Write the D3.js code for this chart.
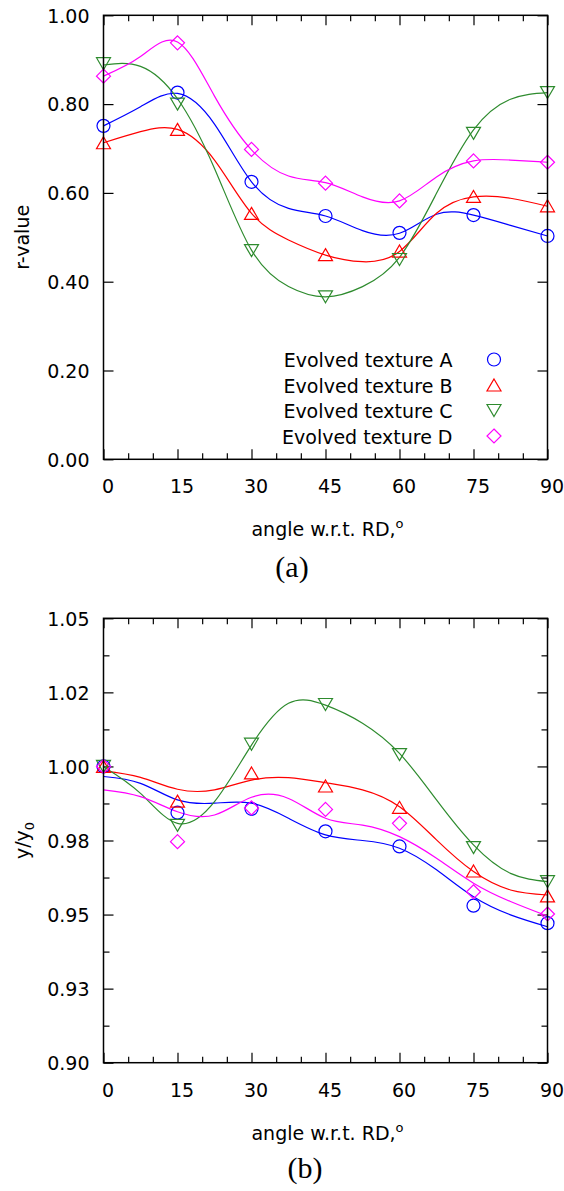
<!DOCTYPE html>
<html>
<head>
<meta charset="utf-8">
<script src="https://cdn.jsdelivr.net/npm/d3@7"></script>
<style>
  body { margin: 0; background: #fff; }
  svg { display: block; }
</style>
</head>
<body>
<script>
// angles of the measured points
var angles = [0, 15, 30, 45, 60, 75, 90]
// angles at which the smoothed curves were read
var fitAngles = [0, 7.5, 15, 22.5, 30, 37.5, 45, 52.5, 60, 67.5, 75, 82.5, 90]

var seriesNames = ["Evolved texture A", "Evolved texture B", "Evolved texture C", "Evolved texture D"]

// panel (a): r-value points
var rA = [0.751, 0.826, 0.625, 0.548, 0.510, 0.550, 0.503]
var rB = [0.713, 0.743, 0.554, 0.461, 0.469, 0.592, 0.571]
var rC = [0.891, 0.800, 0.470, 0.366, 0.450, 0.734, 0.826]
var rD = [0.863, 0.938, 0.698, 0.622, 0.582, 0.672, 0.669]

// panel (a): smoothed curves
var fitRA = [0.751, 0.794, 0.824, 0.755, 0.625, 0.565, 0.548, 0.515, 0.509, 0.552, 0.550, 0.527, 0.503]
var fitRB = [0.713, 0.738, 0.743, 0.674, 0.554, 0.494, 0.460, 0.445, 0.468, 0.554, 0.591, 0.588, 0.570]
var fitRC = [0.888, 0.885, 0.812, 0.655, 0.471, 0.389, 0.366, 0.389, 0.455, 0.599, 0.742, 0.811, 0.826]
var fitRD = [0.863, 0.907, 0.940, 0.818, 0.697, 0.638, 0.623, 0.591, 0.582, 0.636, 0.672, 0.674, 0.669]

// panel (b): y/y0 points
var yA = [1.000, 0.9844, 0.9857, 0.9781, 0.9730, 0.9530, 0.9471]
var yB = [1.000, 0.9883, 0.9978, 0.9934, 0.9862, 0.9647, 0.9563]
var yC = [1.000, 0.9801, 1.0075, 1.0209, 1.0040, 0.9726, 0.9611]
var yD = [1.000, 0.9746, 0.9860, 0.9855, 0.9808, 0.9577, 0.9502]

// panel (b): smoothed curves
var fitA = [0.9966, 0.9943, 0.9887, 0.9876, 0.9876, 0.9825, 0.9769, 0.9750, 0.9724, 0.9651, 0.9560, 0.9499, 0.9459]
var fitB = [0.9985, 0.9963, 0.9923, 0.9921, 0.9954, 0.9962, 0.9945, 0.9921, 0.9864, 0.9752, 0.9645, 0.9583, 0.9566]
var fitC = [0.9999, 0.9909, 0.9808, 0.9881, 1.0072, 1.0213, 1.0207, 1.0146, 1.0044, 0.9887, 0.9735, 0.9639, 0.9611]
var fitD = [0.9921, 0.9898, 0.9847, 0.9836, 0.9896, 0.9892, 0.9825, 0.9802, 0.9763, 0.9690, 0.9606, 0.9544, 0.9495]

// ticks
var xTicks = [0, 15, 30, 45, 60, 75, 90]
var xMinor = [5, 10, 20, 25, 35, 40, 50, 55, 65, 70, 80, 85]
var rTicks = [0, 0.2, 0.4, 0.6, 0.8, 1.0]
var rTickLabels = ["0.00", "0.20", "0.40", "0.60", "0.80", "1.00"]
var yTicks = [0.9, 0.925, 0.95, 0.975, 1.0, 1.025, 1.05]
var yTickLabels = ["0.90", "0.93", "0.95", "0.98", "1.00", "1.02", "1.05"]
var yMinor = [0.9125, 0.9375, 0.9625, 0.9875, 1.0125, 1.0375]

var colors = ["#0000ff", "#ff0000", "#2e8b2e", "#ff00ff"]
var symbols = ["circle", "up", "down", "diamond"]

var FONT = "DejaVu Sans"

var svg = d3.select("body").append("svg")
  .attr("width", 564)
  .attr("height", 1191)

function markerPath(kind) {
  if (kind == "circle") return "M6.5,0A6.5,6.5 0 1,1 -6.5,0A6.5,6.5 0 1,1 6.5,0Z"
  if (kind == "up") return "M0,-6L7,6L-7,6Z"
  if (kind == "down") return "M0,6L7,-6L-7,-6Z"
  return "M0,-7L7,0L0,7L-7,0Z"
}

function styleAxis(g) {
  g.select(".domain").remove()
  g.selectAll(".tick line").attr("stroke", "#000").attr("stroke-width", 1.2)
  g.selectAll("text").attr("font-family", FONT).attr("font-size", 19).attr("fill", "#000")
}

function drawPanel(p) {
  var w = 444, h = p.h
  var g = svg.append("g").attr("transform", "translate(" + p.left + "," + p.top + ")")
  var x = d3.scaleLinear().domain([0, 90]).range([0, w])
  var y = d3.scaleLinear().domain(p.yDomain).range([h, 0])

  // bottom axis with labels
  g.append("g").attr("transform", "translate(0," + h + ")")
    .call(d3.axisBottom(x).tickValues(xTicks).tickSizeInner(-10).tickSizeOuter(0).tickPadding(20.5))
    .call(styleAxis)
    .selectAll("text").attr("dx", 4)
  g.append("g").attr("transform", "translate(0," + h + ")")
    .call(d3.axisBottom(x).tickValues(xMinor).tickSizeInner(-6).tickSizeOuter(0).tickFormat(""))
    .call(styleAxis)
  // top mirror
  g.append("g")
    .call(d3.axisTop(x).tickValues(xTicks).tickSizeInner(-10).tickSizeOuter(0).tickFormat(""))
    .call(styleAxis)
  g.append("g")
    .call(d3.axisTop(x).tickValues(xMinor).tickSizeInner(-6).tickSizeOuter(0).tickFormat(""))
    .call(styleAxis)

  // left axis with labels
  g.append("g")
    .call(d3.axisLeft(y).tickValues(p.yTicks).tickFormat(function(d, i) { return p.yLabels[i] })
      .tickSizeInner(-10).tickSizeOuter(0).tickPadding(14))
    .call(styleAxis)
    .selectAll("text").attr("dy", "0.36em")
  g.append("g").attr("transform", "translate(" + w + ",0)")
    .call(d3.axisRight(y).tickValues(p.yTicks).tickSizeInner(-10).tickSizeOuter(0).tickFormat(""))
    .call(styleAxis)
  if (p.yMinor) {
    g.append("g")
      .call(d3.axisLeft(y).tickValues(p.yMinor).tickSizeInner(-6).tickSizeOuter(0).tickFormat(""))
      .call(styleAxis)
    g.append("g").attr("transform", "translate(" + w + ",0)")
      .call(d3.axisRight(y).tickValues(p.yMinor).tickSizeInner(-6).tickSizeOuter(0).tickFormat(""))
      .call(styleAxis)
  }

  var line = d3.line()
    .x(function(d) { return x(d[0]) })
    .y(function(d) { return y(d[1]) })
    .curve(d3.curveNatural)

  p.curves.forEach(function(c, i) {
    g.append("path")
      .datum(d3.zip(fitAngles, c))
      .attr("d", line)
      .attr("fill", "none")
      .attr("stroke", colors[i])
      .attr("stroke-width", 1.2)
  })

  p.points.forEach(function(s, i) {
    g.append("g").selectAll("path")
      .data(d3.zip(angles, s))
      .enter().append("path")
      .attr("transform", function(d) { return "translate(" + x(d[0]) + "," + y(d[1]) + ")" })
      .attr("d", markerPath(symbols[i]))
      .attr("fill", "none")
      .attr("stroke", colors[i])
      .attr("stroke-width", 1.2)
  })

  // frame
  g.append("rect")
    .attr("width", w).attr("height", h)
    .attr("fill", "none").attr("stroke", "#000").attr("stroke-width", 1.5)

  // x label
  var xl = g.append("text")
    .attr("x", w / 2 + 2).attr("y", h + 77)
    .attr("text-anchor", "middle")
    .attr("font-family", FONT).attr("font-size", 19)
    .text("angle w.r.t. RD,")
  xl.append("tspan").attr("dy", -8).attr("font-size", 13).text("o")

  // y label
  var yl = g.append("text")
    .attr("transform", "translate(" + (-75) + "," + (h / 2) + ") rotate(-90)")
    .attr("text-anchor", "middle")
    .attr("font-family", FONT).attr("font-size", 19)
    .text(p.yTitle)
  if (p.ySub) yl.append("tspan").attr("dy", 5).attr("font-size", 13).text(p.ySub)

  // panel tag
  svg.append("text")
    .attr("x", p.tagX).attr("y", p.tagY)
    .attr("text-anchor", "middle")
    .attr("font-family", "Liberation Serif").attr("font-size", 30)
    .text(p.tag)

  if (p.legend) {
    seriesNames.forEach(function(name, i) {
      var by = 352.2 + i * 25.5
      g.append("text")
        .attr("x", 349).attr("y", by)
        .attr("text-anchor", "end")
        .attr("font-family", FONT).attr("font-size", 19)
        .text(name)
      g.append("path")
        .attr("transform", "translate(" + 390.5 + "," + (by - 8) + ")")
        .attr("d", markerPath(symbols[i]))
        .attr("fill", "none")
        .attr("stroke", colors[i])
        .attr("stroke-width", 1.2)
    })
  }
}

drawPanel({
  left: 103.5, top: 15.3, h: 444,
  yDomain: [0, 1], yTicks: rTicks, yLabels: rTickLabels,
  yTitle: "r-value",
  curves: [fitRA, fitRB, fitRC, fitRD],
  points: [rA, rB, rC, rD],
  tag: "(a)", tagX: 292, tagY: 577,
  legend: true
})

drawPanel({
  left: 103.5, top: 618.3, h: 444.4,
  yDomain: [0.9, 1.05], yTicks: yTicks, yLabels: yTickLabels, yMinor: yMinor,
  yTitle: "y/y", ySub: "0",
  curves: [fitA, fitB, fitC, fitD],
  points: [yA, yB, yC, yD],
  tag: "(b)", tagX: 305, tagY: 1178
})
</script>
</body>
</html>
